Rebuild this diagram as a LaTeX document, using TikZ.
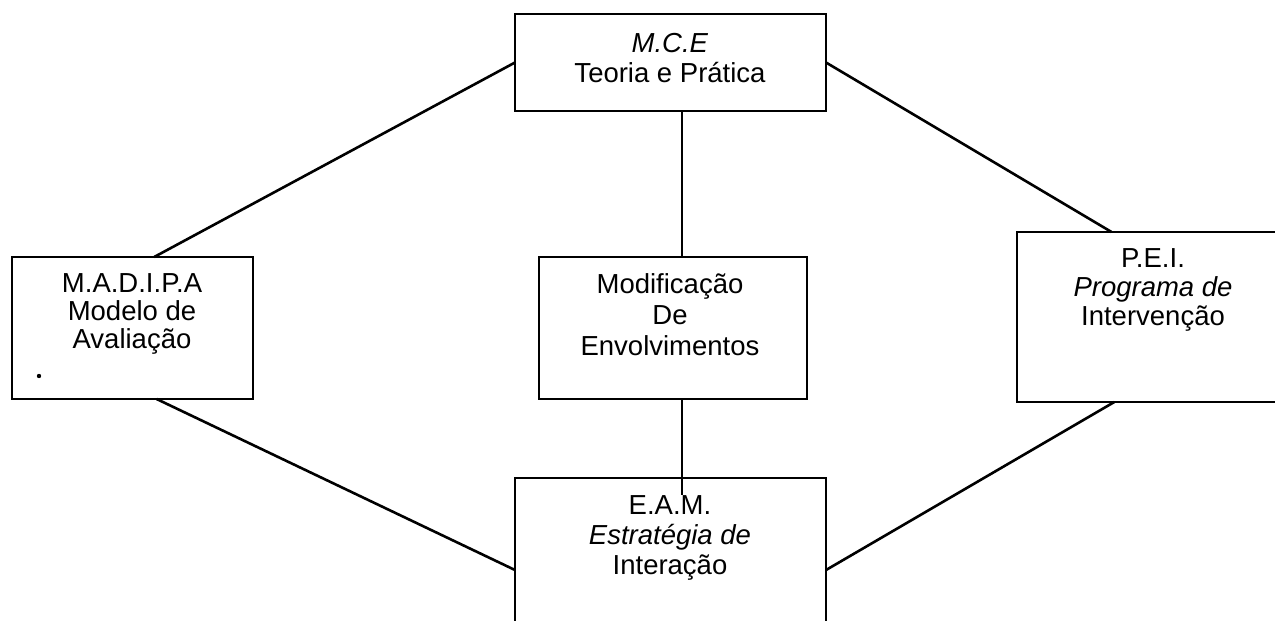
\documentclass[tikz,border=0pt]{standalone}
\usepackage{fontspec}
\setmainfont{Liberation Sans}
\usetikzlibrary{calc}
\begin{document}
\begin{tikzpicture}[x=1pt,y=-1pt,
  box/.style={draw,line width=2pt,inner sep=0pt,outer sep=0pt},
  conn/.style={line width=2.6pt},
  txt/.style={inner sep=0pt,align=center,anchor=north}]
\useasboundingbox (0,0) rectangle (1275,621);
\clip (0,0) rectangle (1275,621);
% boxes
\node[box,minimum width=311pt,minimum height=97pt] (mce) at (670.5,62.5) {};
\node[box,minimum width=241pt,minimum height=142pt] (madipa) at (132.5,328) {};
\node[box,minimum width=268pt,minimum height=142pt] (mid) at (673,328) {};
\node[box,minimum width=278pt,minimum height=170pt] (pei) at (1156,317) {};
\node[box,minimum width=311pt,minimum height=172pt] (eam) at (670.5,564) {};
% texts
\node[txt,font=\fontsize{27.5}{30}\selectfont] (mcet) at (670,33) {\textit{M.C.E}\\Teoria e Prática};
\node[txt,font=\fontsize{27.5}{28}\selectfont] (madipat) at (132,273) {M.A.D.I.P.A\\Modelo de\\Avaliação};
\node[txt,font=\fontsize{27.5}{31}\selectfont] (midt) at (670,273) {Modificação\\De\\Envolvimentos};
\node[txt,font=\fontsize{27.5}{29}\selectfont] (peit) at (1153,248) {P.E.I.\\\textit{Programa de}\\Intervenção};
\node[txt,font=\fontsize{27.5}{30}\selectfont] (eamt) at (670,495) {E.A.M.\\\textit{Estratégia de}\\Interação};
% dot
\fill (39,376) circle (2.2pt);
% connectors
\coordinate (vx) at (682,0);
\coordinate (vend) at (682,495);
\draw[conn] (mce.west) -- ($(madipa.north west)!0.59!(madipa.north east)$);
\draw[conn] (mce.east) -- ($(pei.north west)!0.34!(pei.north east)$);
\draw[conn] (mce.south -| vx) -- (mid.north -| vx);
\draw[conn] (mid.south -| vx) -- (vend);
\draw[conn] ($(madipa.south west)!0.6!(madipa.south east)$) -- ($(eam.north west)!0.535!(eam.south west)$);
\draw[conn] ($(pei.south west)!0.35!(pei.south east)$) -- ($(eam.north east)!0.535!(eam.south east)$);
\end{tikzpicture}
\end{document}
